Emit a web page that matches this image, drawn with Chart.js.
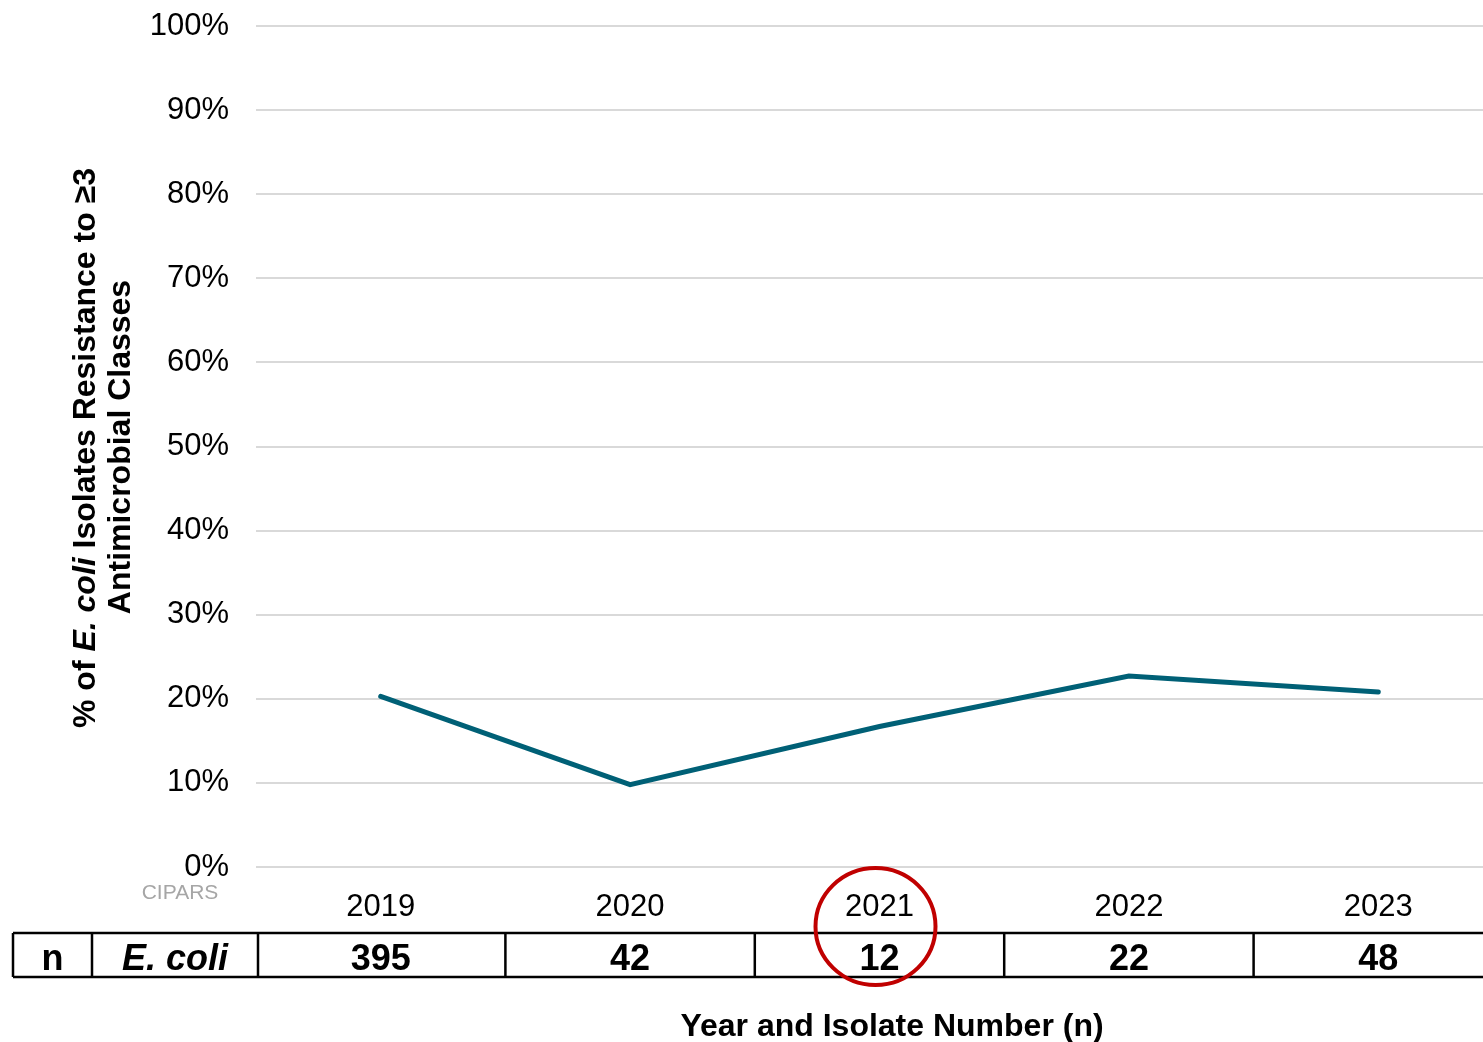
<!DOCTYPE html>
<html>
<head>
<meta charset="utf-8">
<script src="https://cdn.jsdelivr.net/npm/chart.js@4.4.1/dist/chart.umd.min.js"></script>
<style>
  html, body { margin: 0; padding: 0; background: #fff; overflow: hidden; }
  #wrap { width: 1483px; height: 1042px; overflow: hidden; position: relative; }
  #wrap canvas { display: block; }
</style>
</head>
<body>
<div id="wrap"><canvas id="mdrChart" width="1503" height="1042"></canvas></div>
<script>
const years = ['2019', '2020', '2021', '2022', '2023'];
const pctResistant = [20.3, 9.8, 16.7, 22.7, 20.8];
const isolateCounts = [395, 42, 12, 22, 48];
const yTicks = [0, 10, 20, 30, 40, 50, 60, 70, 80, 90, 100];
const highlightYear = '2021';

const FONT = "'Liberation Sans', Arial, sans-serif";

// rotated two-line y title, species name in italics
const yTitle = {
    id: 'yTitle',
    afterDraw(chart) {
        const ctx = chart.ctx;
        const parts = [
            ['% of ', 'bold'],
            ['E. coli', 'italic bold'],
            [' Isolates Resistance to \u22653', 'bold']
        ];
        ctx.save();
        ctx.fillStyle = '#000';
        ctx.textBaseline = 'middle';
        ctx.translate(86, 448);
        ctx.rotate(-Math.PI / 2);
        let total = 0;
        parts.forEach(p => {
            ctx.font = p[1] + ' 32px ' + FONT;
            total += ctx.measureText(p[0]).width;
        });
        let x = -total / 2;
        ctx.textAlign = 'left';
        parts.forEach(p => {
            ctx.font = p[1] + ' 32px ' + FONT;
            ctx.fillText(p[0], x, 0);
            x += ctx.measureText(p[0]).width;
        });
        ctx.restore();

        ctx.save();
        ctx.fillStyle = '#000';
        ctx.textBaseline = 'middle';
        ctx.textAlign = 'center';
        ctx.font = 'bold 32px ' + FONT;
        ctx.translate(121, 447);
        ctx.rotate(-Math.PI / 2);
        ctx.fillText('Antimicrobial Classes', 0, 0);
        ctx.restore();
    }
};

// isolate count table under the year labels + x title + source tag
const nTable = {
    id: 'nTable',
    afterDraw(chart) {
        const ctx = chart.ctx;
        const xs = chart.scales.x;
        const top = 933, bottom = 977, mid = 960;
        const edges = [13, 92, 258];
        for (let i = 1; i < years.length; i++) {
            edges.push((xs.getPixelForValue(i - 1) + xs.getPixelForValue(i)) / 2);
        }
        ctx.save();
        ctx.strokeStyle = '#000';
        ctx.lineWidth = 2.5;
        ctx.beginPath();
        ctx.moveTo(edges[0], top); ctx.lineTo(chart.width, top);
        ctx.moveTo(edges[0], bottom); ctx.lineTo(chart.width, bottom);
        edges.forEach(e => { ctx.moveTo(e, top); ctx.lineTo(e, bottom); });
        ctx.stroke();

        ctx.fillStyle = '#000';
        ctx.textAlign = 'center';
        ctx.textBaseline = 'middle';
        ctx.font = 'bold 36px ' + FONT;
        ctx.fillText('n', (edges[0] + edges[1]) / 2, mid);
        ctx.font = 'italic bold 36px ' + FONT;
        ctx.fillText('E. coli', (edges[1] + edges[2]) / 2, mid);
        ctx.font = 'bold 36px ' + FONT;
        isolateCounts.forEach((n, i) => {
            ctx.fillText(String(n), xs.getPixelForValue(i), mid);
        });

        // highlighted year ring
        const hx = xs.getPixelForValue(years.indexOf(highlightYear)) - 4;
        ctx.strokeStyle = '#C00000';
        ctx.lineWidth = 4;
        ctx.beginPath();
        ctx.ellipse(hx, 926.5, 60, 58.5, 0, 0, Math.PI * 2);
        ctx.stroke();

        ctx.font = 'bold 32px ' + FONT;
        ctx.fillText('Year and Isolate Number (n)', 892, 1027);

        ctx.fillStyle = '#A6A6A6';
        ctx.font = '21px ' + FONT;
        ctx.fillText('CIPARS', 180, 893);
        ctx.restore();
    }
};

new Chart(document.getElementById('mdrChart').getContext('2d'), {
    type: 'line',
    data: {
        labels: years,
        datasets: [{
            data: pctResistant,
            borderColor: '#006076',
            borderWidth: 5,
            borderCapStyle: 'round',
            pointRadius: 0,
            tension: 0,
            fill: false
        }]
    },
    options: {
        responsive: false,
        animation: false,
        layout: { padding: { top: 26, right: 0, bottom: 0, left: 0 } },
        plugins: { legend: { display: false }, tooltip: { enabled: false } },
        scales: {
            x: {
                offset: true,
                grid: { display: false, drawTicks: false },
                border: { display: false },
                ticks: { color: '#000', font: { family: FONT, size: 31 }, padding: 22 },
                afterFit(scale) { scale.height = 175; }
            },
            y: {
                min: 0,
                max: 100,
                afterBuildTicks(scale) { scale.ticks = yTicks.map(v => ({ value: v })); },
                grid: { color: '#D9D9D9', lineWidth: 2, drawTicks: false },
                border: { display: false },
                ticks: {
                    color: '#000',
                    font: { family: FONT, size: 31 },
                    padding: 27,
                    callback: v => v + '%'
                },
                afterFit(scale) {
                    scale.width = 256;
                    scale.paddingTop = 0;
                    scale.paddingBottom = 0;
                }
            }
        }
    },
    plugins: [yTitle, nTable]
});
</script>
</body>
</html>
